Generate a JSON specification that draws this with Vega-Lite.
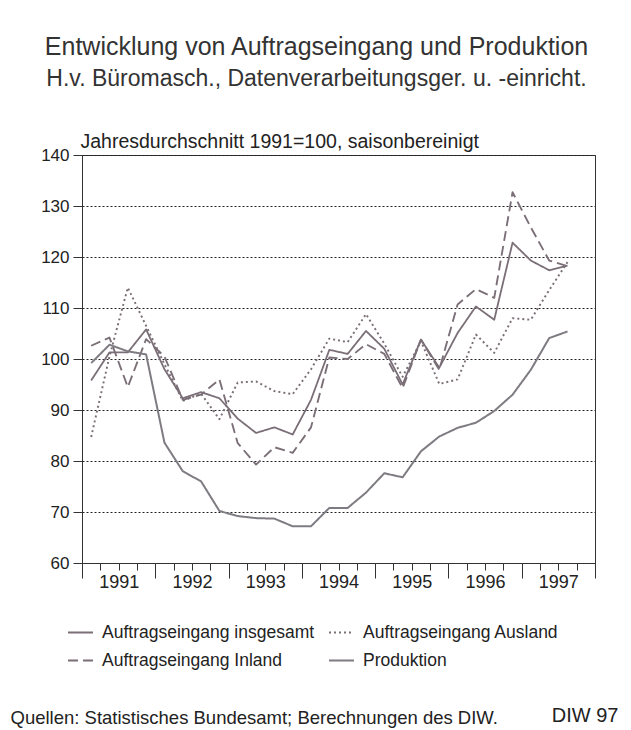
{
  "$schema": "https://vega.github.io/schema/vega-lite/v6.json",
  "width": 513,
  "height": 408,
  "autosize": "none",
  "padding": {"left": 82, "top": 155, "right": 36, "bottom": 167},
  "background": "white",
  "title": {
    "text": "Entwicklung von Auftragseingang und Produktion",
    "subtitle": "H.v. Büromasch., Datenverarbeitungsger. u. -einricht.",
    "anchor": "middle",
    "frame": "group",
    "dx": -22,
    "offset": 40,
    "font": "Liberation Sans",
    "subtitleFont": "Liberation Sans",
    "fontSize": 25,
    "subtitleFontSize": 23,
    "fontWeight": "normal",
    "color": "#333333",
    "subtitleColor": "#333333",
    "subtitlePadding": 8
  },
  "datasets": {
    "quartale": [
      {"quartal": "1991 Q1", "t": 1991.125, "Auftragseingang insgesamt": 95.8, "Auftragseingang Ausland": 84.7, "Auftragseingang Inland": 102.6, "Produktion": 99.2},
      {"quartal": "1991 Q2", "t": 1991.375, "Auftragseingang insgesamt": 101.3, "Auftragseingang Ausland": 100.5, "Auftragseingang Inland": 104.2, "Produktion": 102.8},
      {"quartal": "1991 Q3", "t": 1991.625, "Auftragseingang insgesamt": 101.3, "Auftragseingang Ausland": 114.0, "Auftragseingang Inland": 94.5, "Produktion": 101.5},
      {"quartal": "1991 Q4", "t": 1991.875, "Auftragseingang insgesamt": 105.8, "Auftragseingang Ausland": 106.5, "Auftragseingang Inland": 103.9, "Produktion": 100.9},
      {"quartal": "1992 Q1", "t": 1992.125, "Auftragseingang insgesamt": 98.0, "Auftragseingang Ausland": 99.0, "Auftragseingang Inland": 100.5, "Produktion": 83.6},
      {"quartal": "1992 Q2", "t": 1992.375, "Auftragseingang insgesamt": 92.3, "Auftragseingang Ausland": 91.8, "Auftragseingang Inland": 92.0, "Produktion": 78.0},
      {"quartal": "1992 Q3", "t": 1992.625, "Auftragseingang insgesamt": 93.5, "Auftragseingang Ausland": 93.2, "Auftragseingang Inland": 93.0, "Produktion": 76.0},
      {"quartal": "1992 Q4", "t": 1992.875, "Auftragseingang insgesamt": 92.3, "Auftragseingang Ausland": 88.2, "Auftragseingang Inland": 96.0, "Produktion": 70.2},
      {"quartal": "1993 Q1", "t": 1993.125, "Auftragseingang insgesamt": 88.3, "Auftragseingang Ausland": 95.4, "Auftragseingang Inland": 83.5, "Produktion": 69.2},
      {"quartal": "1993 Q2", "t": 1993.375, "Auftragseingang insgesamt": 85.5, "Auftragseingang Ausland": 95.6, "Auftragseingang Inland": 79.3, "Produktion": 68.8},
      {"quartal": "1993 Q3", "t": 1993.625, "Auftragseingang insgesamt": 86.6, "Auftragseingang Ausland": 93.7, "Auftragseingang Inland": 82.7, "Produktion": 68.7},
      {"quartal": "1993 Q4", "t": 1993.875, "Auftragseingang insgesamt": 85.2, "Auftragseingang Ausland": 93.1, "Auftragseingang Inland": 81.6, "Produktion": 67.2},
      {"quartal": "1994 Q1", "t": 1994.125, "Auftragseingang insgesamt": 92.0, "Auftragseingang Ausland": 98.0, "Auftragseingang Inland": 86.6, "Produktion": 67.2},
      {"quartal": "1994 Q2", "t": 1994.375, "Auftragseingang insgesamt": 101.8, "Auftragseingang Ausland": 104.0, "Auftragseingang Inland": 100.3, "Produktion": 70.8},
      {"quartal": "1994 Q3", "t": 1994.625, "Auftragseingang insgesamt": 101.0, "Auftragseingang Ausland": 103.3, "Auftragseingang Inland": 100.0, "Produktion": 70.8},
      {"quartal": "1994 Q4", "t": 1994.875, "Auftragseingang insgesamt": 105.5, "Auftragseingang Ausland": 108.8, "Auftragseingang Inland": 102.9, "Produktion": 73.8},
      {"quartal": "1995 Q1", "t": 1995.125, "Auftragseingang insgesamt": 102.0, "Auftragseingang Ausland": 103.0, "Auftragseingang Inland": 101.0, "Produktion": 77.6},
      {"quartal": "1995 Q2", "t": 1995.375, "Auftragseingang insgesamt": 95.0, "Auftragseingang Ausland": 96.5, "Auftragseingang Inland": 94.3, "Produktion": 76.8},
      {"quartal": "1995 Q3", "t": 1995.625, "Auftragseingang insgesamt": 103.8, "Auftragseingang Ausland": 103.5, "Auftragseingang Inland": 103.8, "Produktion": 81.9},
      {"quartal": "1995 Q4", "t": 1995.875, "Auftragseingang insgesamt": 98.3, "Auftragseingang Ausland": 95.1, "Auftragseingang Inland": 97.9, "Produktion": 84.8},
      {"quartal": "1996 Q1", "t": 1996.125, "Auftragseingang insgesamt": 105.1, "Auftragseingang Ausland": 96.0, "Auftragseingang Inland": 110.7, "Produktion": 86.5},
      {"quartal": "1996 Q2", "t": 1996.375, "Auftragseingang insgesamt": 110.3, "Auftragseingang Ausland": 104.8, "Auftragseingang Inland": 113.7, "Produktion": 87.5},
      {"quartal": "1996 Q3", "t": 1996.625, "Auftragseingang insgesamt": 107.7, "Auftragseingang Ausland": 101.2, "Auftragseingang Inland": 112.0, "Produktion": 89.8},
      {"quartal": "1996 Q4", "t": 1996.875, "Auftragseingang insgesamt": 122.8, "Auftragseingang Ausland": 108.0, "Auftragseingang Inland": 132.7, "Produktion": 93.0},
      {"quartal": "1997 Q1", "t": 1997.125, "Auftragseingang insgesamt": 119.3, "Auftragseingang Ausland": 107.7, "Auftragseingang Inland": 125.8, "Produktion": 97.9},
      {"quartal": "1997 Q2", "t": 1997.375, "Auftragseingang insgesamt": 117.4, "Auftragseingang Ausland": 113.5, "Auftragseingang Inland": 119.3, "Produktion": 104.1},
      {"quartal": "1997 Q3", "t": 1997.625, "Auftragseingang insgesamt": 118.3, "Auftragseingang Ausland": 119.0, "Auftragseingang Inland": 118.2, "Produktion": 105.4}
    ]
  },
  "data": {"name": "quartale"},
  "transform": [
    {"fold": ["Auftragseingang insgesamt", "Auftragseingang Ausland", "Auftragseingang Inland", "Produktion"], "as": ["reihe", "wert"]}
  ],
  "encoding": {
    "x": {
      "field": "t",
      "type": "quantitative",
      "scale": {"domain": [1991, 1998], "nice": false, "zero": false},
      "axis": {
        "title": "Quellen: Statistisches Bundesamt; Berechnungen des DIW.",
        "titleX": -72,
        "titleY": 160,
        "titleAlign": "left",
        "titleBaseline": "alphabetic",
        "titleAnchor": null,
        "titleFont": "Liberation Sans",
        "titleFontSize": 18.5,
        "titleFontWeight": "normal",
        "titleColor": "#222222",
        "values": [1991, 1991.25, 1991.5, 1991.75, 1992, 1992.25, 1992.5, 1992.75, 1993, 1993.25, 1993.5, 1993.75, 1994, 1994.25, 1994.5, 1994.75, 1995, 1995.25, 1995.5, 1995.75, 1996, 1996.25, 1996.5, 1996.75, 1997, 1997.25, 1997.5, 1997.75, 1998],
        "labelExpr": "datum.value % 1 == 0.5 ? '' + floor(datum.value) : ''",
        "labelOverlap": false,
        "labelFlush": false,
        "labelFont": "Liberation Sans",
        "labelFontSize": 18,
        "labelColor": "#222222",
        "labelPadding": 3,
        "tickSize": {"condition": {"test": "datum.value % 1 == 0", "value": 15}, "value": 7},
        "tickColor": "#333333",
        "domainColor": "#333333",
        "grid": false
      }
    },
    "y": {
      "field": "wert",
      "type": "quantitative",
      "scale": {"domain": [60, 140], "nice": false, "zero": false},
      "axis": {
        "title": "Jahresdurchschnitt 1991=100, saisonbereinigt",
        "titleAngle": 0,
        "titleX": -2,
        "titleY": -8,
        "titleAlign": "left",
        "titleBaseline": "alphabetic",
        "titleAnchor": null,
        "titleFont": "Liberation Sans",
        "titleFontSize": 19.5,
        "titleFontWeight": "normal",
        "titleColor": "#222222",
        "values": [60, 70, 80, 90, 100, 110, 120, 130, 140],
        "labelFont": "Liberation Sans",
        "labelFontSize": 17,
        "labelColor": "#222222",
        "labelPadding": 4,
        "tickSize": 9,
        "tickColor": "#333333",
        "domainColor": "#333333",
        "grid": true,
        "gridColor": "#222222",
        "gridDash": [2, 2],
        "gridWidth": 1
      }
    },
    "color": {
      "field": "reihe",
      "type": "nominal",
      "scale": {
        "domain": ["Auftragseingang insgesamt", "Auftragseingang Inland", "Auftragseingang Ausland", "Produktion"],
        "range": ["#7a6e77", "#7a6e77", "#7a6e77", "#7f7b82"]
      },
      "legend": {
        "orient": "none",
        "legendX": -15,
        "legendY": 464,
        "columns": 2,
        "title": null,
        "symbolType": "stroke",
        "symbolSize": 625,
        "labelFont": "Liberation Sans",
        "labelFontSize": 17.5,
        "labelColor": "#222222",
        "labelOffset": 8,
        "labelLimit": 400,
        "columnPadding": 10,
        "rowPadding": 6
      }
    },
    "strokeDash": {
      "field": "reihe",
      "type": "nominal",
      "scale": {
        "domain": ["Auftragseingang insgesamt", "Auftragseingang Inland", "Auftragseingang Ausland", "Produktion"],
        "range": [[1, 0], [10, 5], [2, 3], [1, 0]]
      }
    },
    "strokeWidth": {
      "field": "reihe",
      "type": "nominal",
      "scale": {
        "domain": ["Auftragseingang insgesamt", "Auftragseingang Inland", "Auftragseingang Ausland", "Produktion"],
        "range": [1.8, 2, 2.4, 5]
      }
    }
  },
  "layer": [
    {
      "transform": [{"filter": "datum.reihe != 'Produktion'"}],
      "mark": {"type": "line", "strokeJoin": "round"}
    },
    {
      "transform": [{"filter": "datum.reihe == 'Produktion'"}],
      "mark": {"type": "line", "strokeJoin": "round"},
      "encoding": {
        "y": {
          "field": "wert",
          "type": "quantitative",
          "scale": {"domain": [60, 140], "nice": false, "zero": false},
          "axis": {
            "orient": "right",
            "title": "DIW 97",
            "titleAngle": 0,
            "titleX": 23,
            "titleY": 566,
            "titleAlign": "right",
            "titleBaseline": "alphabetic",
            "titleAnchor": null,
            "titleFont": "Liberation Sans",
            "titleFontSize": 20,
            "titleFontWeight": "normal",
            "titleColor": "#222222",
            "labels": false,
            "ticks": false,
            "domain": false,
            "grid": false
          }
        }
      }
    }
  ],
  "resolve": {"scale": {"y": "independent"}, "axis": {"y": "independent"}},
  "config": {
    "view": {"stroke": "#333333", "strokeWidth": 1},
    "font": "Liberation Sans"
  }
}
